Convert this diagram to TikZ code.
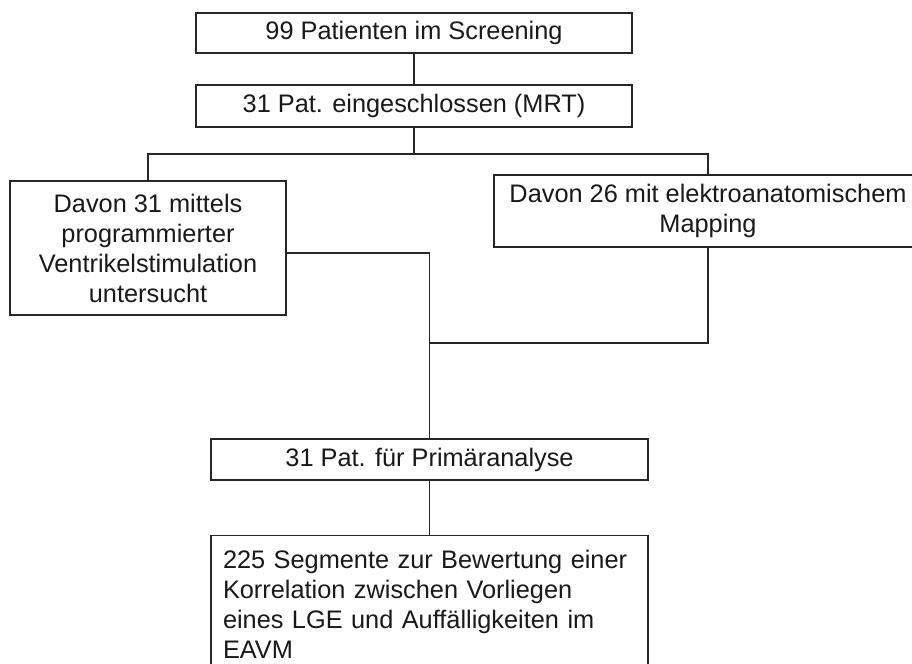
\documentclass[tikz,border=0pt]{standalone}
\usepackage{fontspec}
\setmainfont{Liberation Sans}
\begin{document}
\begin{tikzpicture}[x=0.75pt,y=-0.75pt,
 box/.style={draw=black!85,line width=1.1pt,fill=white,inner sep=0pt,font=\fontsize{19}{22.5}\selectfont,text=black!90},
 link/.style={draw=black!85,line width=1.1pt}]
\useasboundingbox (0,0) rectangle (912,663);
\fill[white] (0,0) rectangle (912,663);
\clip (0,0) rectangle (912,663);
\node[box,minimum width=327pt,minimum height=30pt] (b1) at (414,33) {99 Patienten im Screening};
\node[box,minimum width=327pt,minimum height=31.5pt] (b2) at (414,106) {31 Pat. eingeschlossen (MRT)};
\node[box,minimum width=207pt,minimum height=100.5pt,align=center] (bL) at (148,248) {Davon 31 mittels\\programmierter\\Ventrikelstimulation\\untersucht};
\node[box,minimum width=321pt,minimum height=54pt,align=center] (bR) at (708,211) {Davon 26 mit elektroanatomischem\\Mapping};
\node[box,minimum width=327.75pt,minimum height=30.75pt] (b4) at (429.5,459.5) {31 Pat. für Primäranalyse};
\node[box,anchor=north,text width=309.75pt,align=left,inner xsep=9pt,inner ysep=11pt] (b5) at (429.5,535) {225 Segmente zur Bewertung einer\\Korrelation zwischen Vorliegen\\eines LGE und Auffälligkeiten im\\EAVM};
\coordinate (j1) at (414,154);
\coordinate (j2) at (429.5,343);
\draw[link] (b1.south) -- (b2.north);
\draw[link] (b2.south) -- (j1);
\draw[link] (j1) -| (bL.north);
\draw[link] (j1) -| (bR.north);
\draw[link] ([yshift=-3.75pt]bL.east) -| (b4.north);
\draw[link] (bR.south) |- (j2);
\draw[link] (b4.south) -- (b5.north);
\end{tikzpicture}
\end{document}
